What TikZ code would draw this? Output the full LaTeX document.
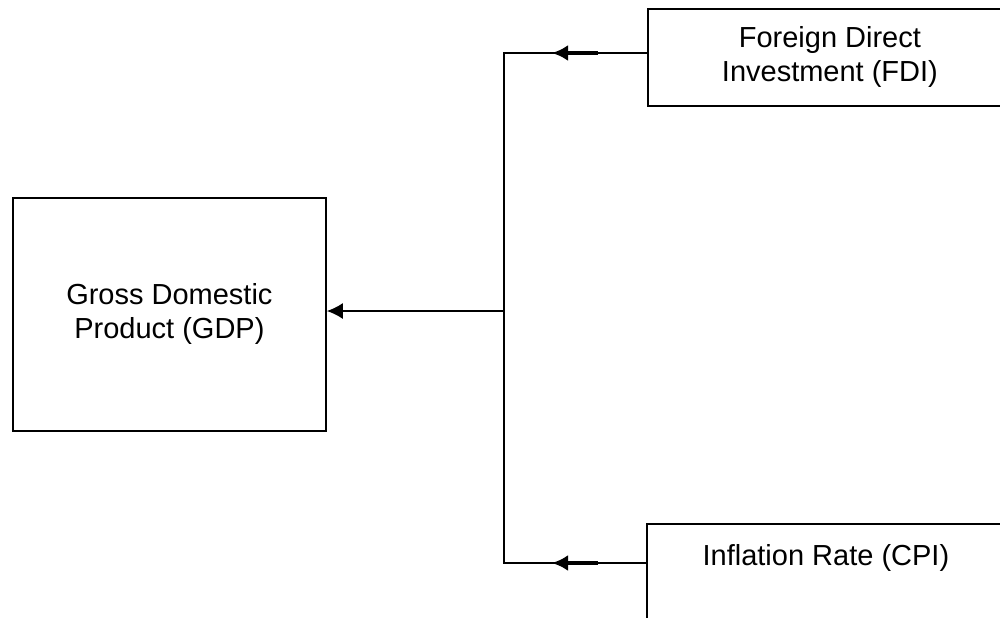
\documentclass[tikz,border=0pt]{standalone}
\usepackage{fontspec}
\setmainfont{Liberation Sans}
\usetikzlibrary{arrows.meta,calc}

\begin{document}
\begin{tikzpicture}[x=0.5pt,y=-0.5pt,font=\fontsize{14.5}{17}\selectfont]
  \tikzstyle{b}=[draw,line width=0.9pt,align=center,inner sep=0pt,anchor=north west,minimum width=182pt,minimum height=48.5pt]
  \tikzstyle{ln}=[line width=0.9pt]
  \tikzstyle{arr}=[line width=1.6pt,-{Latex[length=8pt,width=8pt]}]
  \useasboundingbox (0,0) rectangle (1000,617);
  \clip (0,0) rectangle (1000,617);
  \node[b,minimum width=156.5pt,minimum height=116.5pt] (gdp) at (12,197) {Gross Domestic\\Product (GDP)};
  \node[b] (fdi) at (647,8) {Foreign Direct\\Investment (FDI)};
  \node[b,minimum width=179pt] (cpi) at (646,523) {Inflation Rate (CPI)\\\mbox{}};
  \coordinate (hub) at (504,311);
  \coordinate (fdiout) at ($(fdi.north west)+(0,45)$);
  \coordinate (cpiout) at ($(cpi.north west)+(0,40)$);
  % collecting line
  \draw[ln] (fdiout) -- (fdiout -| hub) -- (cpiout -| hub) -- (cpiout);
  \draw[arr] ($(fdiout)+(-49,0)$) -- ++(-46,0);
  \draw[arr] ($(cpiout)+(-48,0)$) -- ++(-46,0);
  \draw[ln,-{Latex[length=8pt,width=8pt]}] (hub) -- (hub -| gdp.east);
\end{tikzpicture}
\end{document}
